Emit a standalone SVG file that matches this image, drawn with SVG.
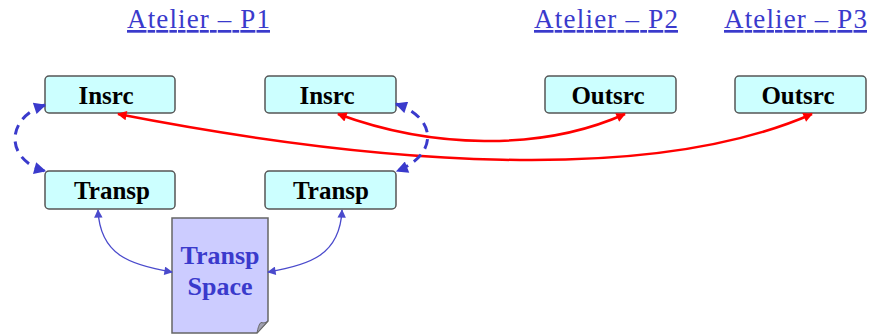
<svg xmlns="http://www.w3.org/2000/svg" width="869" height="335" viewBox="0 0 869 335">
<style>
.title{font-family:"Liberation Serif",serif;font-size:27px;fill:#3a3acc;text-decoration:underline;text-anchor:middle}
.box{fill:#ccffff;stroke:#555;stroke-width:1.5}
.lbl{font-family:"Liberation Serif",serif;font-size:25px;font-weight:bold;fill:#000;text-anchor:middle}
.doc{fill:#ccccff;stroke:#666;stroke-width:1.5}
.doclbl{font-family:"Liberation Serif",serif;font-size:26px;font-weight:bold;fill:#3a3acc;text-anchor:middle}
.red{fill:none;stroke:#ff0000;stroke-width:2.5;marker-start:url(#ar);marker-end:url(#ar)}
.dash{fill:none;stroke:#3a3acc;stroke-width:3;stroke-dasharray:10 7;marker-start:url(#ab);marker-end:url(#ab)}
.thin{fill:none;stroke:#4a4acc;stroke-width:1.3;marker-start:url(#at);marker-end:url(#at)}
</style>
<defs>
<marker id="ar" viewBox="0 0 10 10" refX="9" refY="5" markerWidth="5" markerHeight="3.8" orient="auto-start-reverse"><path d="M0,0 L10,5 L0,10 Z" fill="#ff0000"/></marker>
<marker id="ab" viewBox="0 0 10 10" refX="9" refY="5" markerWidth="4.6" markerHeight="4" orient="auto-start-reverse"><path d="M0,0 L10,5 L0,10 Z" fill="#3a3acc"/></marker>
<marker id="at" viewBox="0 0 10 10" refX="9" refY="5" markerWidth="7.5" markerHeight="6.5" orient="auto-start-reverse"><path d="M0,0 L10,5 L0,10 Z" fill="#4a4acc"/></marker>
</defs>
<g id="titles">
<text class="title" x="198.5" y="28" textLength="143" lengthAdjust="spacing">Atelier – P1</text>
<text class="title" x="606" y="28" textLength="144" lengthAdjust="spacing">Atelier – P2</text>
<text class="title" x="795.5" y="28" textLength="143" lengthAdjust="spacing">Atelier – P3</text>
</g>
<g id="insrc1"><rect class="box" x="45" y="76" width="130" height="37" rx="4"/><text class="lbl" x="106" y="104">Insrc</text></g>
<g id="insrc2"><rect class="box" x="265" y="76" width="131" height="37" rx="4"/><text class="lbl" x="327" y="104">Insrc</text></g>
<g id="outsrc2"><rect class="box" x="545" y="76" width="131" height="37" rx="4"/><text class="lbl" x="608" y="104">Outsrc</text></g>
<g id="outsrc3"><rect class="box" x="735" y="76" width="131" height="37" rx="4"/><text class="lbl" x="798" y="104">Outsrc</text></g>
<g id="transp1"><rect class="box" x="45" y="171" width="130" height="38" rx="4"/><text class="lbl" x="112" y="199">Transp</text></g>
<g id="transp2"><rect class="box" x="265" y="171" width="131" height="38" rx="4"/><text class="lbl" x="331" y="199">Transp</text></g>
<g id="transpspace">
<path class="doc" d="M172,218 H268 V321 L257,333 H172 Z"/>
<path d="M268,321 L257,333 C258,328 259,324 261,322.5 C264,323.5 266,322.5 268,321 Z" fill="#a0a0b0" stroke="#666" stroke-width="1"/>
<text class="doclbl" x="220" y="264">Transp</text>
<text class="doclbl" x="220" y="295">Space</text>
</g>
<g id="connectors">
<path class="red" d="M118,114 C380,165 650,185 812,114"/>
<path class="red" d="M338,114 C430,148 540,152 625,114"/>
<path class="dash" d="M45,105 C5,118 5,160 45,171"/>
<path class="dash" d="M396,104 C438,118 438,155 397,171"/>
<path class="thin" d="M98,210 C100,255 130,265 172,272"/>
<path class="thin" d="M342,210 C340,255 310,265 268,272"/>
</g>
</svg>
